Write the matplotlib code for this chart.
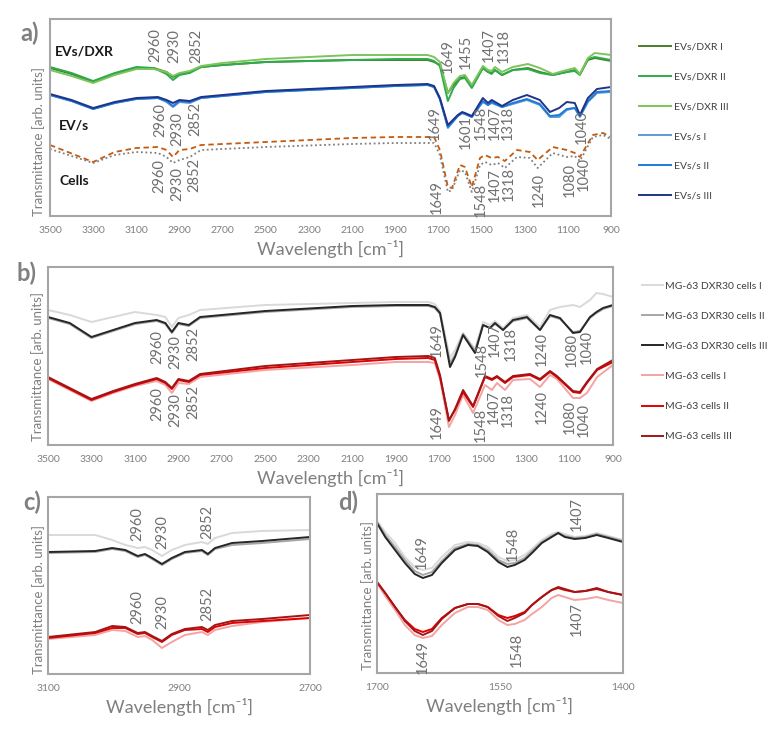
import matplotlib
matplotlib.use('Agg')
import matplotlib.pyplot as plt

plt.rcParams['font.family'] = ['Lato', 'DejaVu Sans']

W, H = 783, 732
GRAY = '#7f7f7f'

# panel a: EVs/DXR
wn_a_top = [3500, 3400, 3300, 3200, 3100, 3020, 2960, 2930, 2900, 2852, 2800, 2700, 2500, 2300, 2100,
            1900, 1750, 1720, 1693, 1656, 1630, 1600, 1577, 1545, 1494, 1470, 1453, 1438, 1405, 1355,
            1285, 1230, 1170, 1105, 1068, 1044, 1007, 975, 900]
evs_dxr_1 = [148, 142, 134, 142, 148, 148, 144, 139, 142, 144, 149, 151, 154, 155, 156, 156, 156, 154, 151, 123,
             131, 138, 139, 129, 148, 144, 143, 146, 141, 146, 148, 144, 141, 144, 146, 142, 156, 158, 155]
evs_dxr_2 = [149, 143, 135, 143, 149, 148, 142, 136, 141, 143, 149, 151, 154, 155, 156, 157, 157, 155, 150, 115,
             128, 137, 138, 128, 148, 144, 142, 146, 141, 146, 147, 143, 141, 144, 145, 141, 157, 159, 156]
evs_dxr_3 = [146, 140, 133, 141, 147, 147, 144, 140, 143, 145, 150, 153, 157, 159, 161, 161, 161, 159, 154, 123,
             133, 140, 141, 131, 150, 146, 145, 149, 144, 149, 152, 148, 142, 146, 148, 142, 158, 163, 161]

# panel a: EVs/s
wn_a_mid = [3500, 3400, 3300, 3200, 3100, 3000, 2960, 2930, 2900, 2852, 2800, 2500, 2100, 1900, 1750, 1720,
            1693, 1656, 1610, 1590, 1577, 1545, 1494, 1470, 1453, 1405, 1355, 1290, 1230, 1183, 1140, 1105,
            1068, 1044, 1007, 965, 900]
evs_s_1 = [121, 115, 107, 113, 117, 118, 114, 109, 114, 113, 118, 124, 128, 130, 131, 129, 117, 88, 100, 103,
           102, 99, 114, 111, 113, 109, 112, 116, 111, 99, 99, 106, 108, 99, 114, 123, 124]
evs_s_2 = [121, 115, 107, 113, 117, 118, 115, 110, 115, 114, 118, 124, 128, 130, 131, 129, 117, 89, 100, 103,
           102, 99, 115, 111, 114, 109, 113, 117, 112, 100, 101, 107, 108, 100, 115, 124, 125]
evs_s_3 = [122, 116, 108, 114, 118, 119, 116, 113, 116, 115, 119, 125, 129, 131, 132, 130, 118, 91, 101, 104,
           103, 100, 118, 113, 116, 110, 116, 121, 116, 104, 108, 114, 113, 101, 118, 127, 129]

# panel a: cells
wn_a_low = [3500, 3300, 3200, 3100, 3000, 2960, 2930, 2900, 2852, 2800, 2500, 2100, 1900, 1720, 1693, 1656,
            1637, 1600, 1577, 1545, 1507, 1484, 1453, 1424, 1392, 1336, 1276, 1240, 1170, 1105, 1068, 1044,
            984, 937, 900]
cells_orange = [71, 54, 64, 68, 69, 66, 59, 66, 67, 71, 74, 78, 79, 79, 66, 29, 28, 51, 49, 29, 58, 61, 58, 59,
                55, 66, 64, 56, 69, 66, 63, 59, 81, 83, 79]
cells_gray = [67, 53, 61, 64, 63, 59, 53, 56, 59, 66, 69, 72, 73, 73, 61, 24, 26, 46, 44, 24, 51, 54, 51, 53,
              48, 59, 58, 48, 63, 59, 60, 55, 79, 81, 77]

# panel b: MG-63 DXR30 cells
wn_b_top = [3500, 3400, 3300, 3200, 3100, 3000, 2960, 2930, 2900, 2852, 2800, 2500, 2100, 1900, 1750, 1720,
            1696, 1650, 1627, 1590, 1535, 1498, 1466, 1443, 1406, 1360, 1296, 1236, 1190, 1144, 1084, 1052,
            1006, 976, 946, 900]
dxr30_1 = [135, 130, 123, 128, 133, 130, 128, 118, 127, 130, 135, 140, 142, 143, 143, 141, 134, 87, 95, 112,
           96, 123, 120, 124, 117, 127, 130, 118, 135, 138, 140, 138, 145, 152, 151, 148]
dxr30_2 = [127, 121, 107, 114, 121, 124, 121, 112, 121, 119, 127, 133, 138, 139, 139, 137, 131, 82, 90, 111,
           94, 120, 117, 121, 115, 124, 127, 115, 129, 126, 113, 114, 127, 132, 136, 139]
dxr30_3 = [128, 122, 108, 115, 122, 125, 122, 113, 122, 120, 128, 134, 139, 140, 140, 138, 132, 78, 88, 110,
           92, 120, 117, 122, 115, 125, 128, 115, 130, 127, 112, 113, 128, 133, 137, 140]

# panel b: MG-63 cells
wn_b_low = [3500, 3400, 3300, 3200, 3100, 3000, 2960, 2930, 2900, 2852, 2800, 2500, 2100, 1900, 1750, 1720,
            1696, 1655, 1627, 1590, 1544, 1489, 1457, 1434, 1397, 1360, 1282, 1236, 1190, 1158, 1084, 1052,
            1020, 973, 900]
mg_1 = [66, 55, 44, 52, 59, 64, 60, 52, 62, 61, 68, 75, 80, 83, 83, 82, 66, 18, 30, 50, 32, 60, 55, 62, 55,
        65, 66, 58, 70, 66, 47, 47, 52, 68, 80]
mg_2 = [67, 56, 45, 53, 60, 66, 62, 56, 65, 63, 70, 77, 83, 86, 87, 85, 68, 25, 35, 53, 38, 68, 65, 68, 62,
        68, 70, 65, 73, 68, 53, 52, 62, 75, 83]
mg_3 = [68, 57, 46, 54, 61, 67, 63, 57, 66, 64, 71, 79, 85, 88, 89, 87, 70, 24, 36, 55, 39, 69, 66, 69, 63,
        69, 71, 66, 74, 69, 54, 53, 63, 76, 85]

# panel c
wn_c = [3100, 3028, 3002, 2982, 2963, 2952, 2941, 2926, 2911, 2891, 2865, 2856, 2845, 2819, 2773, 2700]
c_dxr30_1 = [139, 139, 134, 129, 126, 127, 124, 118, 124, 129, 132, 130, 136, 141, 143, 144]
c_dxr30_2 = [121, 122, 125, 123, 117, 119, 115, 109, 115, 121, 123, 119, 125, 129, 131, 135]
c_dxr30_3 = [122, 123, 126, 124, 118, 120, 116, 110, 116, 122, 124, 120, 126, 131, 133, 137]
c_mg_1 = [35, 39, 44, 43, 37, 38, 34, 26, 32, 39, 42, 39, 44, 48, 52, 56]
c_mg_2 = [36, 41, 46, 46, 40, 41, 37, 32, 39, 44, 45, 42, 47, 51, 53, 56]
c_mg_3 = [37, 42, 48, 47, 41, 42, 38, 33, 40, 45, 47, 44, 49, 53, 55, 59]

# panel d
wn_d = [1700, 1690, 1678, 1666, 1654, 1644, 1633, 1621, 1605, 1589, 1577, 1565, 1552, 1541, 1532, 1520,
        1511, 1499, 1487, 1479, 1471, 1459, 1446, 1432, 1418, 1400]
d_dxr30_1 = [152, 141, 130, 116, 106, 103, 105, 116, 128, 131, 130, 126, 116, 112, 113, 118, 124, 133, 139, 141,
             139, 136, 137, 140, 137, 133]
d_dxr30_2 = [151, 138, 126, 113, 102, 98, 101, 112, 125, 129, 128, 123, 113, 109, 110, 115, 122, 131, 137, 140,
             137, 135, 136, 139, 136, 132]
d_dxr30_3 = [150, 136, 123, 110, 99, 95, 98, 110, 123, 128, 127, 121, 111, 106, 108, 113, 120, 130, 136, 140,
             136, 134, 135, 138, 135, 131]
d_mg_1 = [90, 77, 63, 48, 38, 35, 37, 48, 60, 66, 66, 63, 53, 48, 49, 53, 59, 66, 75, 78, 76, 73, 74, 76, 73, 70]
d_mg_2 = [91, 80, 66, 53, 44, 41, 44, 55, 65, 69, 69, 66, 58, 55, 57, 61, 68, 76, 83, 85, 83, 81, 82, 84, 81, 78]
d_mg_3 = [91, 80, 66, 52, 42, 38, 42, 54, 65, 69, 69, 66, 57, 52, 55, 60, 68, 76, 83, 86, 84, 81, 82, 85, 81, 78]

# peak labels: text, x (cm-1), top of label (axis units)
peaks_a = [('2960', 3013, 188), ('2930', 2925, 187), ('2852', 2823, 187),
           ('1649', 1655, 177), ('1455', 1572, 181), ('1407', 1465, 188), ('1318', 1396, 187),
           ('2960', 2990, 113), ('2930', 2911, 104), ('2852', 2828, 114),
           ('1649', 1716, 110), ('1601', 1572, 101), ('1548', 1505, 110), ('1407', 1441, 110),
           ('1318', 1379, 110), ('1040', 1034, 106),
           ('2960', 2995, 57), ('2930', 2911, 49), ('2852', 2833, 58),
           ('1649', 1706, 36), ('1548', 1504, 33), ('1407', 1440, 48), ('1318', 1376, 49),
           ('1240', 1234, 43), ('1080', 1092, 53), ('1040', 1025, 59)]
peaks_b = [('2960', 2998, 115), ('2930', 2916, 110), ('2852', 2833, 118),
           ('1649', 1710, 122), ('1548', 1505, 102), ('1407', 1443, 122), ('1318', 1369, 118),
           ('1240', 1227, 113), ('1080', 1089, 112), ('1040', 1020, 115),
           ('2960', 2998, 58), ('2930', 2916, 52), ('2852', 2833, 60),
           ('1649', 1710, 40), ('1548', 1510, 37), ('1407', 1447, 55), ('1318', 1383, 52),
           ('1240', 1227, 55), ('1080', 1098, 45), ('1040', 1033, 42)]
peaks_c = [('2960', 2963, 167), ('2930', 2926, 159), ('2852', 2856, 169),
           ('2960', 2963, 84), ('2930', 2926, 79), ('2852', 2856, 87)]
peaks_d = [('1649', 1645, 138), ('1548', 1534, 146), ('1407', 1456, 176),
           ('1649', 1644, 33), ('1548', 1529, 40), ('1407', 1456, 71)]

fig = plt.figure(figsize=(W / 100, H / 100), dpi=100)


def add_ax(left, top, right, bottom):
    return fig.add_axes([left / W, 1 - bottom / H, (right - left) / W, (bottom - top) / H])


def style(ax, xlim, ylim, ticks):
    ax.set_xlim(*xlim)
    ax.set_ylim(*ylim)
    ax.set_xticks(ticks)
    ax.set_yticks([])
    ax.tick_params(length=0, labelsize=7.5, colors=GRAY, pad=7)
    for s in ax.spines.values():
        s.set_color('#a6a6a6')
        s.set_linewidth(1.5)
    ax.set_xlabel('Wavelength [cm⁻¹]', fontsize=13, color=GRAY, labelpad=4)


def peak_labels(ax, peaks, size=10.5):
    for txt, x, y in peaks:
        ax.text(x, y, txt, rotation=90, ha='center', va='top', fontsize=size, color='#6f6f6f')


lw = 1.4
ax_a = add_ax(50, 19, 611, 216)
ax_a.plot(wn_a_top, evs_dxr_1, color='#4b7d2b', lw=lw, label='EVs/DXR I')
ax_a.plot(wn_a_top, evs_dxr_2, color='#2eab4c', lw=lw, label='EVs/DXR II')
ax_a.plot(wn_a_top, evs_dxr_3, color='#7cc55c', lw=lw, label='EVs/DXR III')
ax_a.plot(wn_a_mid, evs_s_1, color='#5b9bd5', lw=lw, label='EVs/s I')
ax_a.plot(wn_a_mid, evs_s_2, color='#1f7ad6', lw=lw, label='EVs/s II')
ax_a.plot(wn_a_mid, evs_s_3, color='#1f3488', lw=lw, label='EVs/s III')
ax_a.plot(wn_a_low, cells_orange, color='#c55a11', lw=1.3, ls=(0, (3, 2)))
ax_a.plot(wn_a_low, cells_gray, color='#7f7f7f', lw=1.3, ls=(0, (1, 1.5)))
style(ax_a, (3500, 900), (0, 197), range(3500, 899, -200))
peak_labels(ax_a, peaks_a)
ax_a.text(3477, 164, 'EVs/DXR', fontsize=10, fontweight='bold', va='center', ha='left', color='#1a1a1a')
ax_a.text(3458, 91, 'EV/s', fontsize=10, fontweight='bold', va='center', ha='left', color='#1a1a1a')
ax_a.text(3458, 35, 'Cells', fontsize=10, fontweight='bold', va='center', ha='left', color='#1a1a1a')
ax_a.legend(loc='upper left', bbox_to_anchor=(630 / W, 1 - 33 / H), bbox_transform=fig.transFigure,
            frameon=False, fontsize=7.5, handlelength=3, handletextpad=0.3, labelspacing=1.97,
            labelcolor='#404040')

ax_b = add_ax(48, 267, 613, 445)
ax_b.plot(wn_b_top, dxr30_1, color='#d9d9d9', lw=lw, label='MG-63 DXR30 cells I')
ax_b.plot(wn_b_top, dxr30_2, color='#a6a6a6', lw=lw, label='MG-63 DXR30 cells II')
ax_b.plot(wn_b_top, dxr30_3, color='#262626', lw=lw, label='MG-63 DXR30 cells III')
ax_b.plot(wn_b_low, mg_1, color='#f4a3a3', lw=lw, label='MG-63 cells I')
ax_b.plot(wn_b_low, mg_2, color='#e00000', lw=lw, label='MG-63 cells II')
ax_b.plot(wn_b_low, mg_3, color='#a31515', lw=lw, label='MG-63 cells III')
style(ax_b, (3500, 900), (0, 178), range(3500, 899, -200))
peak_labels(ax_b, peaks_b)
ax_b.legend(loc='upper left', bbox_to_anchor=(633 / W, 1 - 272 / H), bbox_transform=fig.transFigure,
            frameon=False, fontsize=7.5, handlelength=2, handletextpad=0.2, labelspacing=2.0,
            labelcolor='#404040')

ax_c = add_ax(48, 497, 310, 674)
ax_c.plot(wn_c, c_dxr30_1, color='#d9d9d9', lw=lw)
ax_c.plot(wn_c, c_dxr30_2, color='#a6a6a6', lw=lw)
ax_c.plot(wn_c, c_dxr30_3, color='#262626', lw=lw)
ax_c.plot(wn_c, c_mg_1, color='#f4a3a3', lw=lw)
ax_c.plot(wn_c, c_mg_2, color='#e00000', lw=lw)
ax_c.plot(wn_c, c_mg_3, color='#a31515', lw=lw)
style(ax_c, (3100, 2700), (0, 177), [3100, 2900, 2700])
peak_labels(ax_c, peaks_c)

ax_d = add_ax(377, 494, 623, 673)
ax_d.plot(wn_d, d_dxr30_1, color='#d9d9d9', lw=lw)
ax_d.plot(wn_d, d_dxr30_2, color='#a6a6a6', lw=lw)
ax_d.plot(wn_d, d_dxr30_3, color='#262626', lw=lw)
ax_d.plot(wn_d, d_mg_1, color='#f4a3a3', lw=lw)
ax_d.plot(wn_d, d_mg_2, color='#e00000', lw=lw)
ax_d.plot(wn_d, d_mg_3, color='#a31515', lw=lw)
style(ax_d, (1700, 1400), (0, 179), [1700, 1550, 1400])
peak_labels(ax_d, peaks_d)

for x, y in [(39, 141), (38, 367), (39, 600), (368, 595)]:
    fig.text(x / W, 1 - y / H, 'Transmittance [arb. units]', rotation=90, ha='center', va='center',
             fontsize=9.5, color=GRAY)
for txt, x, y in [('a)', 30, 33), ('b)', 27, 273), ('c)', 32, 502), ('d)', 348, 502)]:
    fig.text(x / W, 1 - y / H, txt, ha='center', va='center', fontsize=17, fontweight='bold',
             color='#808080')

fig.savefig('out.png', dpi=100)
